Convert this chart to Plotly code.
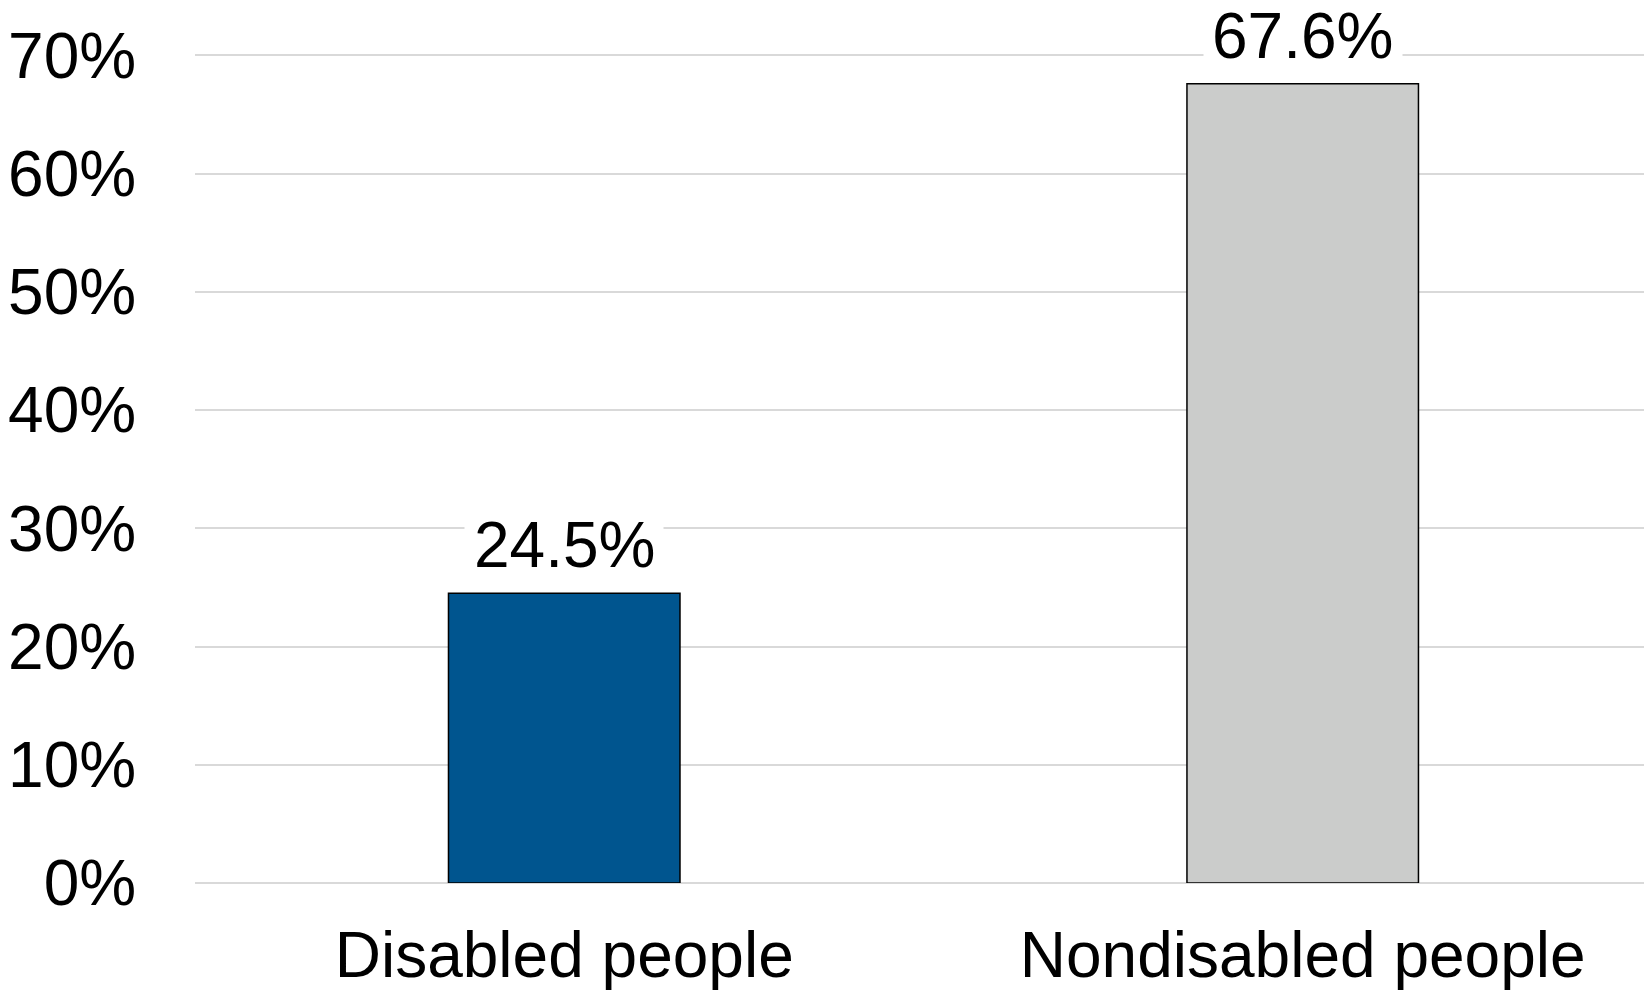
import plotly.graph_objects as go

categories = ["Disabled people", "Nondisabled people"]
values = [24.5, 67.6]
value_labels = ["24.5%", "67.6%"]
bar_colors = ["#00558F", "#CBCCCB"]
y_tick_vals = [0, 10, 20, 30, 40, 50, 60, 70]
y_tick_text = ["0%", "10%", "20%", "30%", "40%", "50%", "60%", "70%"]

FONT = "Liberation Sans, Arial, sans-serif"

fig = go.Figure()
fig.add_trace(go.Bar(
    x=categories,
    y=values,
    width=0.3135,
    marker=dict(color=bar_colors, line=dict(color="#000000", width=1.5)),
    hoverinfo="skip",
))

# white label backgrounds that break the gridlines behind the value labels
for cat, val in zip(categories, values):
    fig.add_annotation(
        x=cat, y=val, text=" ", showarrow=False,
        xref="x", yref="y", yanchor="bottom", yshift=8,
        width=198, height=66, borderpad=0,
        bgcolor="#FFFFFF",
        font=dict(family=FONT, size=10, color="#FFFFFF"),
    )

for cat, val, lab in zip(categories, values, value_labels):
    fig.add_annotation(
        x=cat, y=val, text=lab, showarrow=False,
        xref="x", yref="y", yanchor="bottom",
        yshift=11, borderpad=0,
        font=dict(family=FONT, size=64, color="#000000"),
    )

# the page body adds an 8px offset, so the figure is sized to fill the window
fig.update_layout(
    width=1644, height=984,
    margin=dict(l=187, r=0, t=45, b=109, autoexpand=False),
    paper_bgcolor="#FFFFFF",
    plot_bgcolor="#FFFFFF",
    showlegend=False,
    bargap=0.1,
    xaxis=dict(
        type="category",
        range=[-0.5, 1.473],
        automargin=False,
        showgrid=False, zeroline=False, showline=False,
        ticks="outside", ticklen=16, tickcolor="rgba(0,0,0,0)",
        tickfont=dict(family=FONT, size=64, color="#000000"),
    ),
    yaxis=dict(
        range=[0, 70.2],
        automargin=False,
        tickvals=y_tick_vals, ticktext=y_tick_text,
        showgrid=True, gridcolor="#D9D9D9", gridwidth=2,
        zeroline=True, zerolinecolor="#D9D9D9", zerolinewidth=2,
        showline=False,
        ticks="outside", ticklen=45, tickcolor="rgba(0,0,0,0)",
        tickfont=dict(family=FONT, size=64, color="#000000"),
    ),
)

fig.write_html("out.html")
